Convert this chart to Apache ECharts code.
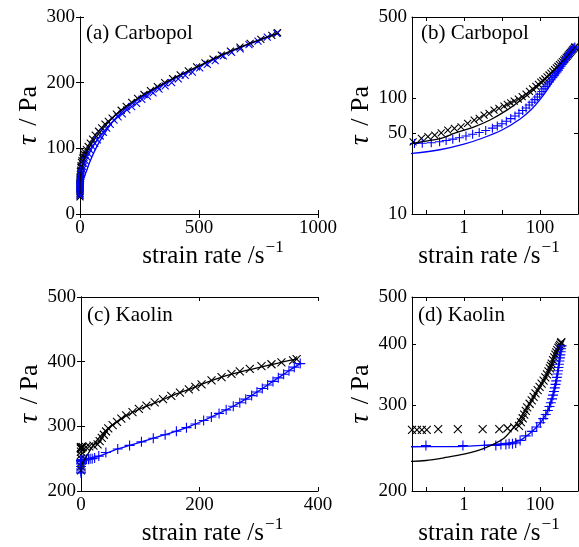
<!DOCTYPE html>
<html><head><meta charset="utf-8">
<script src="https://cdn.jsdelivr.net/npm/echarts@6/dist/echarts.min.js"></script>
<style>html,body{margin:0;padding:0;background:#fff}#c{width:579px;height:547px}</style>
</head><body><div id="c"></div>
<script>
// ---------------- data (strain rate [1/s], stress [Pa]) ----------------
const panelTitles = ['(a) Carbopol', '(b) Carbopol', '(c) Kaolin', '(d) Kaolin'];

// Carbopol, increasing ramp (black x)
const carbopolUp = [[0.001,26],[0.004,29],[0.01,32],[0.02,35],[0.032,38],[0.046,41.9],[0.076,44.9],[0.113,46.4],[0.17,47.9],[0.252,50.1],[0.376,52.9],[0.56,54.7],[0.836,56.5],[1.25,60.4],[1.86,64.5],[2.52,66.7],[3.39,71.2],[4.58,73.7],[6.2,78.7],[8.3,81.3],[11.3,85],[13.8,88],[17,91],[21,94],[27,98],[34,103],[43,108],[53,114],[64,120],[78,126],[91,131],[105,137],[119,141],[135,146],[153,152],[173,158],[194,164],[217,170],[242,176],[269,182],[296,188],[325,194],[356,200],[389,206],[421,212],[455,218],[490,224],[525,230],[559,236],[594,242],[632,248],[672,254],[715,260],[760,266],[806,272],[830,276]];
// Carbopol, decreasing ramp (blue), as read in the linear panel (a)
const carbopolDown = [[0.002,28],[0.008,31],[0.02,35],[0.035,38.5],[0.05,40.5],[0.08,40.8],[0.138,41.2],[0.229,42.7],[0.34,43.9],[0.508,45.7],[0.76,46.9],[1.13,49.5],[1.69,51.9],[2.52,54.8],[3.74,57.4],[5.6,60.3],[7.55,63],[10,67.6],[13,71.8],[17,76.8],[22,81.4],[28,87],[35,92],[43,97.2],[52,102.5],[62,107.6],[73,113],[85,118.8],[98,124.5],[112,130.8],[127,136.6],[143,143],[160,147.8],[178,152.6],[197,158.7],[217,163.6],[238,168.4],[260,174.6],[283,179.5],[307,184.3],[332,190],[358,195],[385,199.9],[413,205.8],[442,211.2],[472,216],[503,222.6],[535,228],[568,233.4],[602,240.9],[637,246],[673,251.5],[710,258],[748,263.2],[787,269.5],[827,275]];
// Carbopol, decreasing ramp (blue +), as read in the log panel (b)
const carbopolDownLog = [[0.05,40.5],[0.08,40.8],[0.138,41.2],[0.229,42],[0.34,43],[0.508,44.2],[0.76,45.5],[1.13,47],[1.69,48.7],[2.52,50.5],[3.74,52.5],[5.6,55],[7.55,57.5],[10,60],[13,63],[17,66.5],[22,70],[28,74],[35,78],[43,82],[52,87],[62,92],[73,97],[85,102],[98,108],[112,114],[127,120],[143,126],[160,132],[178,138],[197,144],[217,150],[238,156],[260,162],[283,168],[307,174],[332,181],[358,188],[385,195],[413,202],[442,209],[472,216],[503,223],[535,230],[568,237],[602,243],[637,249],[673,255],[710,261],[748,266],[787,271],[827,276]];
// Carbopol fitted curves
const carbopolUpFit = [[0.001,30],[0.01,36],[0.043,40.5],[0.1,42.5],[0.25,45],[0.6,50],[1.86,56.5],[5,65],[13.8,79],[30,95],[50,108],[85,125],[150,151],[260,180],[400,208],[520,229],[600,243],[700,258],[830,275]];
const carbopolDownFit = [[0.001,29],[0.01,31.5],[0.043,33.3],[0.25,35.6],[1.86,39.3],[5,44],[13.8,53],[25,63],[40,78],[60,95],[85,112],[120,132],[150,146],[200,163],[260,178],[400,207],[520,228],[600,242],[700,257],[830,275]];
const carbopolDownFitLog = [[0.001,30],[0.01,32],[0.043,33.3],[0.25,36],[1,40],[3,45],[10,53],[30,66],[60,80],[100,97],[150,116],[200,134],[260,153],[400,193],[520,222],[600,238],[700,256],[830,276]];

// Kaolin, increasing ramp (black x)
const kaolinUp = [[0.0005,232],[0.001,238],[0.002,244],[0.004,250],[0.008,256],[0.015,261],[0.025,265],[0.043,267],[0.058,267],[0.078,267],[0.105,267],[0.21,268],[0.69,268],[3.1,268],[8.5,268],[14,269],[21,270],[28,272],[31.5,277],[35.1,282],[38.6,287],[42.3,292],[46,297],[53.4,302],[60.7,307],[68.1,312],[76.2,317],[86.9,322],[97.7,327],[110.4,332],[124.4,337],[138.4,342],[152.4,347],[167,352],[182,357],[193,361],[203.5,365],[220.3,371],[237.2,376],[254,381],[268,385],[284.9,389],[304.6,393],[321.5,396],[338.3,399],[357.9,402],[364,404]];
// Kaolin, decreasing ramp (blue +)
const kaolinDown = [[0.0003,228],[0.0008,231],[0.002,234],[0.005,238],[0.01,242],[0.02,245],[0.03,247],[0.1,248],[0.94,248],[3.46,248],[6.9,248],[9.4,249],[12.7,249],[15.4,250],[18.9,250],[23,251],[30,254],[42,259.5],[62,265],[82,270.5],[102,276],[122,281.5],[142,287],[161,292.5],[178,298],[193,303.5],[207,309],[220,314.5],[233,320],[245,325.5],[257,331],[268,336.5],[278,342],[288,347.5],[297,353],[306,358.5],[315,364],[324,369.5],[333,375],[342,380.5],[351,386],[360,391.5],[370,397]];
// Kaolin fitted curves
const kaolinUpFit = [[0.001,229],[0.01,229.5],[0.043,230],[0.1,231],[0.3,234],[1,238],[3.5,245],[11.5,257],[24,275],[46,297],[74,315],[102,328],[130,338],[158,349],[185,358],[212,368],[240,377],[268,384],[296,390],[324,396],[352,402],[365,404]];
const kaolinDownFit = [[0.001,246],[0.043,246.5],[0.3,246.7],[1,247],[3,248],[10,250],[20,252],[30,254],[62,265],[102,276],[142,287],[178,298],[207,309],[233,320],[257,331],[278,342],[297,353],[315,364],[333,375],[351,386],[370,397]];

// tick values
const logXTicks = [0.1, 1, 10, 100];
const logXLabels = [1, 100];
const logYTicksB = [10, 50, 100, 500];
const logYTicksD = [200, 300, 400, 500];

// ---------------- chart ----------------
const FONT = 'Liberation Serif';
const chart = echarts.init(document.getElementById('c'));
const grids = [
  {left: 80, top: 17, width: 238, height: 197},
  {left: 412, top: 17, width: 166, height: 197},
  {left: 81, top: 297, width: 237, height: 197},
  {left: 412, top: 297, width: 166, height: 197}
];
const lineCol = {color: '#000', width: 1};
const xName = '{a|strain rate /s}{b|\u22121}';
const yName = '{i|\u03c4}{a| / Pa}';
const xNameStyle = (padL, padR) => ({
  padding: [0, padR, 0, padL],
  rich: {
    a: {fontFamily: FONT, fontSize: 25, color: '#000', lineHeight: 30, verticalAlign: 'bottom'},
    b: {fontFamily: FONT, fontSize: 17, color: '#000', lineHeight: 30, verticalAlign: 'top', padding: [0,0,0,1]}
  }
});
const yNameStyle = {
  rich: {
    i: {fontFamily: FONT, fontSize: 27, fontStyle: 'italic', color: '#000', padding: [0,3,0,0]},
    a: {fontFamily: FONT, fontSize: 26, color: '#000'}
  }
};
const labelStyle = {fontFamily: FONT, fontSize: 19, color: '#000', formatter: v => String(v)};

function xAxisMain(gi, cfg, padL, padR) {
  return Object.assign({
    gridIndex: gi, position: 'bottom', splitLine: {show: false},
    axisLine: {show: true, lineStyle: lineCol},
    axisTick: {show: true, inside: true, length: 4, lineStyle: lineCol},
    axisLabel: Object.assign({margin: 5}, labelStyle),
    name: xName, nameLocation: 'middle', nameGap: 25, nameTextStyle: xNameStyle(padL, padR)
  }, cfg);
}
function yAxisMain(gi, cfg) {
  return Object.assign({
    gridIndex: gi, position: 'left', splitLine: {show: false},
    axisLine: {show: true, lineStyle: lineCol},
    axisTick: {show: true, inside: true, length: 4, lineStyle: lineCol},
    axisLabel: Object.assign({margin: 5}, labelStyle),
    name: yName, nameLocation: 'middle', nameGap: 35, nameTextStyle: yNameStyle
  }, cfg);
}
function mirror(base, pos) {
  return Object.assign({}, base, {position: pos, name: '',
    axisLabel: {show: false},
    axisTick: Object.assign({}, base.axisTick)});
}

const xA = xAxisMain(0, {type: 'value', min: 0, max: 1000, interval: 500}, 28, 0);
const xB = xAxisMain(1, {type: 'log', logBase: 10, min: 0.043, max: 1000,
  axisTick: {show: true, inside: true, length: 4, lineStyle: lineCol, customValues: logXTicks},
  axisLabel: Object.assign({margin: 5, customValues: logXLabels}, labelStyle)}, 0, 12);
const xC = xAxisMain(2, {type: 'value', min: 0, max: 400, interval: 200}, 26, 0);
const xD = xAxisMain(3, {type: 'log', logBase: 10, min: 0.043, max: 1000,
  axisTick: {show: true, inside: true, length: 4, lineStyle: lineCol, customValues: logXTicks},
  axisLabel: Object.assign({margin: 5, customValues: logXLabels}, labelStyle)}, 0, 12);

const yA = yAxisMain(0, {type: 'value', min: 0, max: 300, interval: 100});
const yB = yAxisMain(1, {type: 'log', logBase: 10, min: 10, max: 500,
  axisTick: {show: true, inside: true, length: 4, lineStyle: lineCol, customValues: logYTicksB},
  axisLabel: Object.assign({margin: 5, customValues: logYTicksB}, labelStyle)});
const yC = yAxisMain(2, {type: 'value', min: 200, max: 500, interval: 100});
const yD = yAxisMain(3, {type: 'log', logBase: 10, min: 200, max: 500,
  axisTick: {show: true, inside: true, length: 4, lineStyle: lineCol, customValues: logYTicksD},
  axisLabel: Object.assign({margin: 5, customValues: logYTicksD}, labelStyle)});

const xAxes = [xA, xB, xC, xD].concat([xA, xB, xC, xD].map(a => mirror(a, 'top')));
const yAxes = [yA, yB, yC, yD].concat([yA, yB, yC, yD].map(a => mirror(a, 'right')));

const CROSS = 'path://M0,0L10,10M10,0L0,10';
const PLUS = 'path://M5,0L5,10M0,5L10,5';
function markers(gi, data, color, sym, size) {
  return {type: 'scatter', xAxisIndex: gi, yAxisIndex: gi, data: data,
    symbol: sym, symbolSize: size, z: 2,
    itemStyle: {color: 'none', borderColor: color, borderWidth: 1.1, opacity: 1},
    emphasis: {disabled: true}};
}
function fit(gi, data, color) {
  return {type: 'line', xAxisIndex: gi, yAxisIndex: gi, data: data, smooth: 0.3,
    showSymbol: false, symbol: 'none', z: 3,
    lineStyle: {color: color, width: 1.3}, emphasis: {disabled: true}};
}
const BLACK = '#000000', BLUE = '#0000ff';
const panels = [
  // grid, up data, down data, up fit, down fit, down symbol, x size, + size
  [0, carbopolUp, carbopolDown, carbopolUpFit, carbopolDownFit, CROSS, 7, 7],
  [1, carbopolUp, carbopolDownLog, carbopolUpFit, carbopolDownFitLog, PLUS, 7, 9],
  [2, kaolinUp, kaolinDown, kaolinUpFit, kaolinDownFit, PLUS, 8, 10],
  [3, kaolinUp, kaolinDown, kaolinUpFit, kaolinDownFit, PLUS, 8, 10]
];
const series = [];
panels.forEach(p => {
  series.push(markers(p[0], p[1], BLACK, CROSS, p[6]));
  series.push(markers(p[0], p[2], BLUE, p[5], p[7]));
  series.push(fit(p[0], p[4], BLUE));
  series.push(fit(p[0], p[3], BLACK));
});

const titlePos = [[86, 23], [421, 23], [87, 305], [418, 305]];
const titles = panelTitles.map((t, i) => ({
  text: t, left: titlePos[i][0], top: titlePos[i][1], padding: 0,
  textStyle: {fontFamily: FONT, fontSize: 21, fontWeight: 'normal', color: '#000'}
}));

chart.setOption({
  animation: false,
  backgroundColor: '#fff',
  title: titles,
  grid: grids,
  xAxis: xAxes,
  yAxis: yAxes,
  series: series
});
</script></body></html>
